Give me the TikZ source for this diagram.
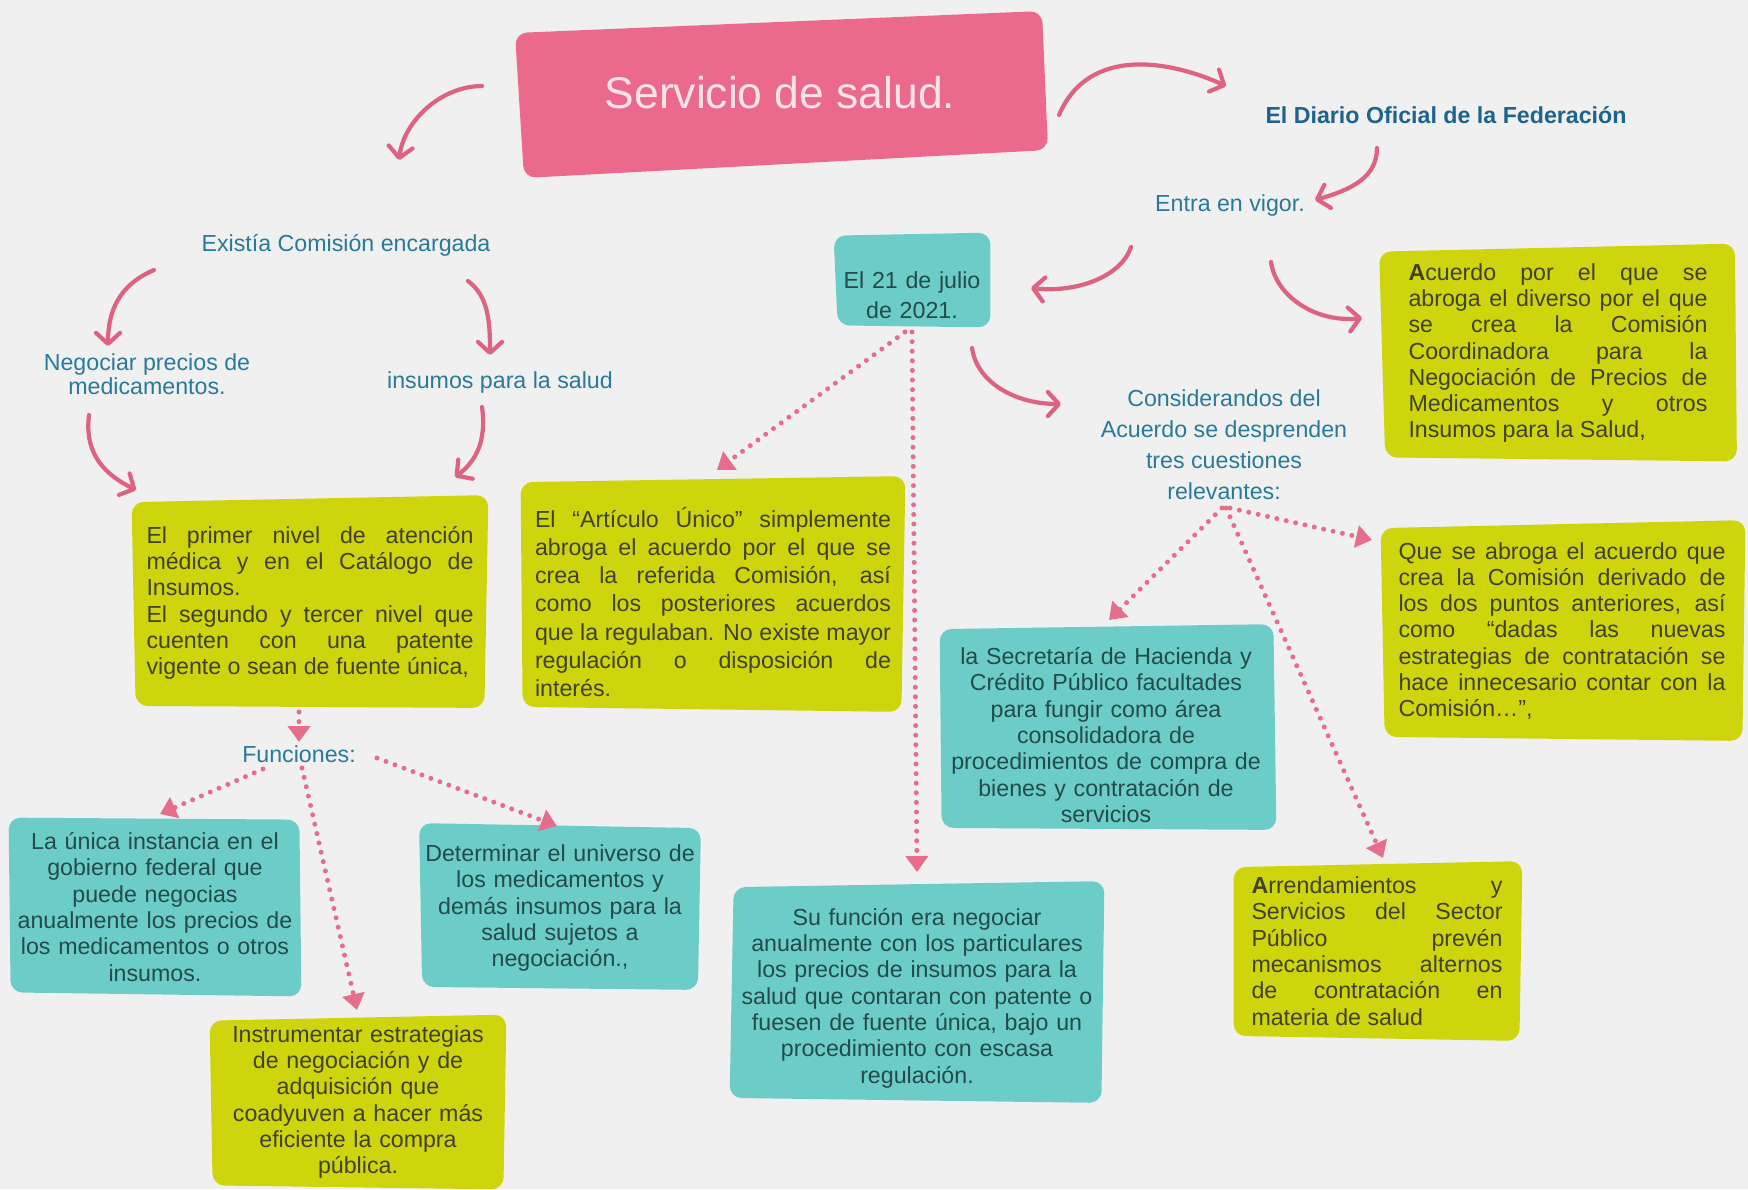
\documentclass[tikz,border=0pt]{standalone}
\usepackage{fontspec}
\setmainfont{Liberation Sans}
\usetikzlibrary{arrows.meta}
\pgfdeclarelayer{background}
\pgfsetlayers{background,main}
\definecolor{bgc}{RGB}{240,240,240}
\definecolor{tpink}{RGB}{235,105,138}
\definecolor{ttext}{RGB}{250,228,232}
\definecolor{yel}{RGB}{207,213,12}
\definecolor{tea}{RGB}{108,205,200}
\definecolor{lblue}{RGB}{40,122,152}
\definecolor{dblue}{RGB}{28,100,140}
\definecolor{ytext}{RGB}{65,65,40}
\definecolor{ttxt}{RGB}{35,75,75}
\definecolor{apink}{RGB}{222,98,130}
\definecolor{dpink}{RGB}{230,110,140}
\newcommand\bodyfont{\fontsize{11.6}{13.15}\selectfont}
\newcommand\jl[1]{\hbox to\hsize{#1}}
% hand-drawn fill behind a named box node: name, colour, shifts of NW, NE, SE, SW corners
\newcommand\handbox[6]{%
  \begin{pgfonlayer}{background}
  \fill[#2, rounded corners=6pt] ([shift={#3}]#1.north west) -- ([shift={#4}]#1.north east) -- ([shift={#5}]#1.south east) -- ([shift={#6}]#1.south west) -- cycle;
  \end{pgfonlayer}}
\tikzset{
  ybox/.style={text=ytext, inner sep=0pt, font=\bodyfont},
  tbox/.style={text=ttxt, inner sep=0pt, font=\bodyfont, align=center},
  lbl/.style={text=lblue, font=\bodyfont, align=center, inner sep=1pt},
  curv/.style={draw=apink, line width=2.1pt, line cap=round, -{Straight Barb[length=5.5pt,width=12pt,round]}},
  dots/.style={draw=dpink, line width=2.5pt, line cap=round, dash pattern=on 0pt off 4.8pt, -{Triangle[length=8pt,width=11pt]}}
}
\begin{document}
\begin{tikzpicture}[x=0.5pt,y=-0.5pt]
\begin{pgfonlayer}{background}
\fill[bgc] (0,0) rectangle (1748,1189);
\end{pgfonlayer}
\useasboundingbox (0,0) rectangle (1748,1189);

% title
\node[font=\fontsize{22.2}{26}\selectfont, text=ttext, inner sep=0pt] (title) at (780,93) {Servicio de salud.};
\begin{pgfonlayer}{background}
\fill[tpink, rounded corners=6pt] ([shift={(-265,-60)}]title.center) -- ([shift={(262,-82)}]title.center) -- ([shift={(268,57)}]title.center) -- ([shift={(-256,85)}]title.center) -- cycle;
\end{pgfonlayer}

% right branch
\node[lbl, font=\bodyfont\bfseries, text=dblue] (dof) at (1446,115) {El Diario Oficial de la Federación};
\node[lbl] (vigor) at (1230,205) {Entra en vigor.};
\node[tbox, font=\fontsize{11.6}{15}\selectfont, minimum width=78pt, minimum height=46pt, text width=72pt] (fecha) at (912,280) {\rule{0pt}{23.5pt}El 21 de julio\\de 2021.};
\handbox{fecha}{tea}{(0,2)}{(0,-1)}{(0,1)}{(4,-1)}
\node[lbl, font=\fontsize{11.6}{15.5}\selectfont] (consid) at (1224,445) {Considerandos del\\Acuerdo se desprenden\\tres cuestiones\\relevantes:};
\node[ybox, minimum width=178.5pt, minimum height=106pt] (acuerdo) at (1558,353) {\vbox{\hsize=149.5pt
\jl{\textbf{A}cuerdo por el que se}
\jl{abroga el diverso por el que}
\jl{se crea la Comisión}
\jl{Coordinadora para la}
\jl{Negociación de Precios de}
\jl{Medicamentos y otros}
\hbox{Insumos para la Salud,}}};
\handbox{acuerdo}{yel}{(0,5)}{(-2,-3)}{(0,2)}{(6,-2)}
\node[ybox, font=\fontsize{11.6}{14.1}\selectfont, minimum width=192pt, minimum height=115.5pt] (artic) at (713,594) {\vbox{\hsize=178pt
\jl{\rule{0pt}{18pt}El “Artículo Único” simplemente}
\jl{abroga el acuerdo por el que se}
\jl{crea la referida Comisión, así}
\jl{como los posteriores acuerdos}
\jl{que la regulaban. No existe mayor}
\jl{regulación o disposición de}
\hbox{interés.}}};
\handbox{artic}{yel}{(0,4)}{(0,-2)}{(-4,2)}{(2,-3)}
\node[tbox, minimum width=187pt, minimum height=108.5pt, text width=182pt] (sufun) at (917,992) {\rule{0pt}{14.5pt}Su función era negociar\\anualmente con los particulares\\los precios de insumos para la\\salud que contaran con patente o\\fuesen de fuente única, bajo un\\procedimiento con escasa\\regulación.};
\handbox{sufun}{tea}{(4,4)}{(0,-2)}{(-3,2)}{(0,-3)}
\node[tbox, minimum width=170pt, minimum height=100.5pt, text width=165pt] (secre) at (1106,727) {\rule{0pt}{16.5pt}la Secretaría de Hacienda y\\Crédito Público facultades\\para fungir como área\\consolidadora de\\procedimientos de compra de\\bienes y contratación de\\servicios};
\handbox{secre}{tea}{(4,3)}{(-3,-2)}{(0,2)}{(6,0)}
\node[ybox, minimum width=183pt, minimum height=107.5pt] (queab) at (1562,631) {\vbox{\hsize=163.5pt
\jl{Que se abroga el acuerdo que}
\jl{crea la Comisión derivado de}
\jl{los dos puntos anteriores, así}
\jl{como “dadas las nuevas}
\jl{estrategias de contratación se}
\jl{hace innecesario contar con la}
\hbox{Comisión…”,}}};
\handbox{queab}{yel}{(2,5)}{(0,-3)}{(-3,2)}{(6,-2)}
\node[ybox, minimum width=145pt, minimum height=87.5pt] (arrend) at (1377,951) {\vbox{\hsize=125.5pt
\jl{\textbf{A}rrendamientos y}
\jl{Servicios del Sector}
\jl{Público prevén}
\jl{mecanismos alternos}
\jl{de contratación en}
\hbox{materia de salud}}};
\handbox{arrend}{yel}{(2,4)}{(0,-2)}{(-3,2)}{(2,-3)}

% left branch
\node[lbl] (exist) at (346,245) {Existía Comisión encargada};
\node[lbl, font=\fontsize{11.6}{12}\selectfont] (nego) at (147,374) {Negociar precios de\\medicamentos.};
\node[lbl] (insumos) at (500,382) {insumos para la salud};
\node[ybox, minimum width=178pt, minimum height=104.5pt] (prim) at (310,603) {\vbox{\hsize=163.5pt
\jl{El primer nivel de atención}
\jl{médica y en el Catálogo de}
\hbox{Insumos.}
\jl{El segundo y tercer nivel que}
\jl{cuenten con una patente}
\hbox{vigente o sean de fuente única,}}};
\handbox{prim}{yel}{(0,4)}{(0,-3)}{(-4,0)}{(4,-2)}
\node[lbl] (func) at (299,754) {Funciones:};
\node[tbox, minimum width=146pt, minimum height=87pt, text width=140pt] (unica) at (155,907) {La única instancia en el\\gobierno federal que\\puede negocias\\anualmente los precios de\\los medicamentos o otros\\insumos.};
\handbox{unica}{tea}{(0,-2)}{(-2,0)}{(0,2)}{(2,-2)}
\node[tbox, minimum width=140.5pt, minimum height=81.5pt, text width=136pt] (deter) at (560,908) {Determinar el universo de\\los medicamentos y\\demás insumos para la\\salud sujetos a\\negociación.,};
\handbox{deter}{tea}{(0,-3)}{(0,2)}{(-3,0)}{(3,-3)}
\node[ybox, align=center, minimum width=148pt, minimum height=85pt, text width=140pt] (instr) at (358,1102) {Instrumentar estrategias\\de negociación y de\\adquisición que\\coadyuven a hacer más\\eficiente la compra\\pública.};
\handbox{instr}{yel}{(0,4)}{(0,-2)}{(-3,2)}{(3,-2)}

% curved arrows
\draw[curv] ([shift={(-298,-7)}]title.center) .. controls +(-40,0) and +(5,-40) .. ([shift={(53,-85)}]exist.center);
\draw[curv] ([shift={(279,22)}]title.center) .. controls +(30,-70) and +(-55,-25) .. ([shift={(-220,-29)}]dof.center);
\draw[curv] ([shift={(-69,33)}]dof.center) .. controls +(0,30) and +(35,-10) .. ([shift={(85,-5)}]vigor.center);
\draw[curv] ([shift={(-99,42)}]vigor.center) .. controls +(-10,30) and +(45,5) .. ([shift={(119,8)}]fecha.center);
\draw[curv] ([shift={(41,57)}]vigor.center) .. controls +(5,35) and +(-45,5) .. ([shift={(-196,-35)}]acuerdo.center);
\draw[curv] ([shift={(60,68)}]fecha.center) .. controls +(5,35) and +(-45,0) .. ([shift={(-163,-41)}]consid.center);
\draw[curv] ([shift={(-192,25)}]exist.center) .. controls +(-35,15) and +(0,-35) .. ([shift={(-39,-28)}]nego.center);
\draw[curv] ([shift={(122,36)}]exist.center) .. controls +(20,15) and +(0,-35) .. ([shift={(-10,-27)}]insumos.center);
\draw[curv] ([shift={(-58,41)}]nego.center) .. controls +(-5,40) and +(-30,-15) .. ([shift={(-174,-113)}]prim.center);
\draw[curv] ([shift={(-18,25)}]insumos.center) .. controls +(5,35) and +(20,-15) .. ([shift={(145,-126)}]prim.center);

% dotted arrows
\draw[dots] ([shift={(-11,109)}]prim.center) -- ([shift={(0,-12)}]func.center);
\draw[dots] ([shift={(-36,15)}]func.center) -- ([shift={(5,-93)}]unica.center);
\draw[dots] ([shift={(3,14)}]func.center) -- ([shift={(-1,-92)}]instr.center);
\draw[dots] ([shift={(78,4)}]func.center) -- ([shift={(-3,-82)}]deter.center);
\draw[dots] ([shift={(-7,52)}]fecha.center) -- ([shift={(4,-124)}]artic.center);
\draw[dots] ([shift={(0,52)}]fecha.center) -- ([shift={(0,-120)}]sufun.center);
\draw[dots] ([shift={(-2,63)}]consid.center) -- ([shift={(3,-107)}]secre.center);
\draw[dots] ([shift={(2,63)}]consid.center) -- ([shift={(6,-93)}]arrend.center);
\draw[dots] ([shift={(6,63)}]consid.center) -- ([shift={(-190,-91)}]queab.center);
\end{tikzpicture}
\end{document}
